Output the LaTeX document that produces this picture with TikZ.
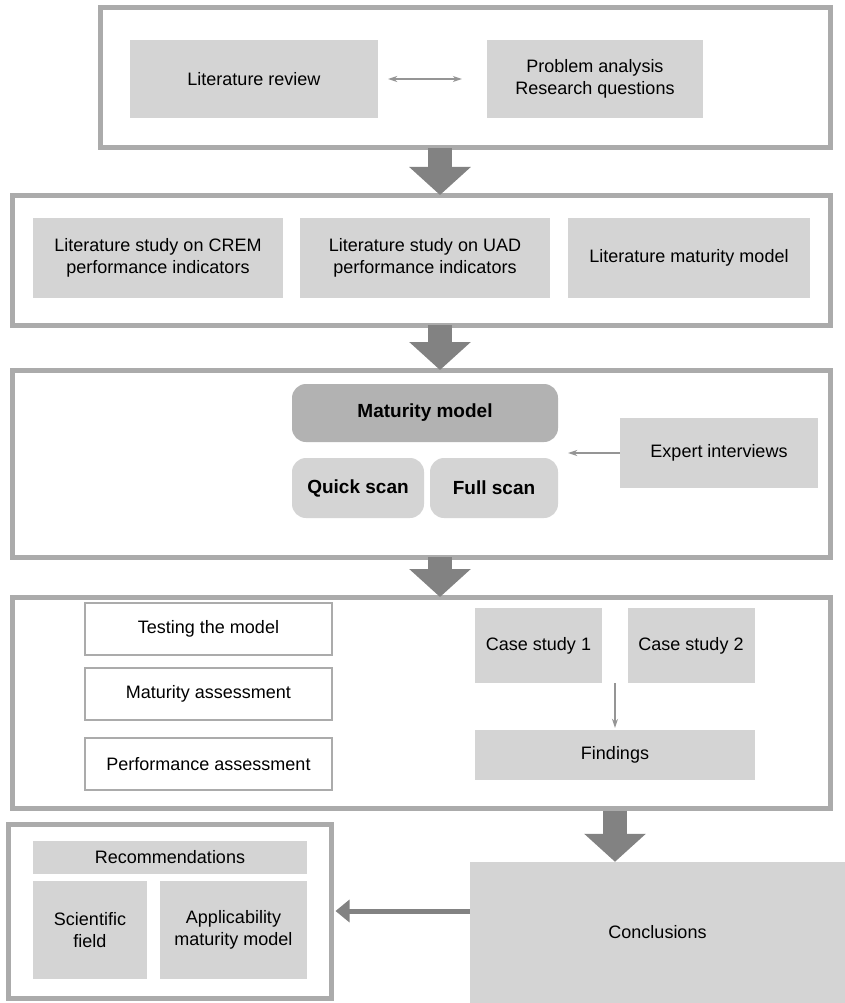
\documentclass[tikz,border=0pt]{standalone}
\usepackage{fontspec}
\setmainfont{Liberation Sans}
\usepackage{xcolor}
\usetikzlibrary{arrows.meta, positioning}
\definecolor{framegray}{HTML}{ABABAB}
\definecolor{boxgray}{HTML}{D4D4D4}
\definecolor{darkbox}{HTML}{B2B2B2}
\definecolor{arrowgray}{HTML}{828282}
\definecolor{linegray}{HTML}{959595}
\tikzstyle{frame} = [rectangle, draw=framegray, line width=5pt, fill=white, inner sep=0pt]
\tikzstyle{greybox} = [rectangle, fill=boxgray, inner sep=0pt, align=center]
\tikzstyle{whitebox} = [rectangle, draw=framegray, line width=1.2pt, fill=white, inner sep=0pt, minimum width=247pt, minimum height=52pt]
\tikzstyle{roundbox} = [rectangle, rounded corners=14pt, fill=boxgray, inner sep=0pt, font=\fontsize{19}{22}\selectfont\bfseries]
\tikzstyle{bigarrow} = [arrowgray, line width=24pt, -{Triangle[length=28pt,width=60pt]}]
\tikzstyle{arrow} = [linegray, line width=1.2pt, -{Stealth[length=9pt,width=6pt]}]
\tikzstyle{thickarrow} = [arrowgray, line width=5pt, -{Triangle[length=14pt,width=22pt]}]

\begin{document}
\begin{tikzpicture}[x=1pt, y=-1pt, font=\fontsize{18}{22}\selectfont]
\useasboundingbox (0,0) rectangle (845,1003);

% frames
\node (intro) [frame, minimum width=730pt, minimum height=140pt] at (465,78) {};
\node (theory) [frame, minimum width=818pt, minimum height=130pt] at (421,260) {};
\node (model) [frame, minimum width=818pt, minimum height=187pt] at (421,463.5) {};
\node (testing) [frame, minimum width=818pt, minimum height=211pt] at (421,702.5) {};
\node (recs) [frame, minimum width=323pt, minimum height=174pt] at (169.5,911) {};

% introduction
\node (litrev) [greybox, minimum width=248pt, minimum height=78pt] at (254,79) {Literature review};
\node (problem) [greybox, minimum width=216pt, minimum height=78pt] at (595,79) {Problem analysis\\Research questions};
\draw [arrow, {Stealth[length=9pt,width=6pt]}-{Stealth[length=9pt,width=6pt]}, shorten <=10pt, shorten >=25pt] (litrev) -- (problem);

% theory
\node (crem) [greybox, minimum width=250pt, minimum height=80pt] at (158,258) {Literature study on CREM\\performance indicators};
\node (uad) [greybox, minimum width=250pt, minimum height=80pt] at (425,258) {Literature study on UAD\\performance indicators};
\node (litmat) [greybox, minimum width=242pt, minimum height=80pt] at (689,258) {Literature maturity model};

% maturity model
\node (matmodel) [roundbox, fill=darkbox, minimum width=266pt, minimum height=58pt] at (425,413) {Maturity model};
\node (quick) [roundbox, minimum width=132pt, minimum height=60pt] at (358,488) {Quick scan};
\node (full) [roundbox, minimum width=128pt, minimum height=60pt] at (494,488) {Full scan};
\node (expert) [greybox, minimum width=198pt, minimum height=70pt] at (719,453) {Expert interviews};
\draw [arrow, shorten >=10pt] (expert.west) -- (full.east |- expert.west);

% testing
\node (test) [whitebox] at (208.5,629) {Testing the model};
\node (matass) [whitebox] at (208.5,694) {Maturity assessment};
\node (perfass) [whitebox] at (208.5,764) {Performance assessment};
\node (case1) [greybox, minimum width=127pt, minimum height=75pt] at (538.5,645.5) {Case study 1};
\node (case2) [greybox, minimum width=127pt, minimum height=75pt] at (691,645.5) {Case study 2};
\node (findings) [greybox, minimum width=280pt, minimum height=50pt] at (615,755) {Findings};
\draw [arrow, shorten >=2pt] (findings.north |- case1.south) -- (findings.north);

% conclusions and recommendations
\node (concl) [greybox, minimum width=375pt, minimum height=141pt] at (657.5,932.5) {Conclusions};
\node (rec) [greybox, minimum width=274pt, minimum height=33pt] at (170,857) {Recommendations};
\node (sci) [greybox, minimum width=114pt, minimum height=98pt] at (90,930) {Scientific\\field};
\node (appl) [greybox, minimum width=147pt, minimum height=98pt] at (233.5,930) {Applicability\\maturity model};
\draw [thickarrow, shorten >=2pt] (concl.west |- 0,911) -- (recs.east |- 0,911);

% flow between the phases
\draw [bigarrow] (440,148) -- (440,195);
\draw [bigarrow] (440,325) -- (440,370);
\draw [bigarrow] (440,557) -- (440,597);
\draw [bigarrow] (findings.south |- testing.south) -- (findings.south |- concl.north);
\end{tikzpicture}
\end{document}
